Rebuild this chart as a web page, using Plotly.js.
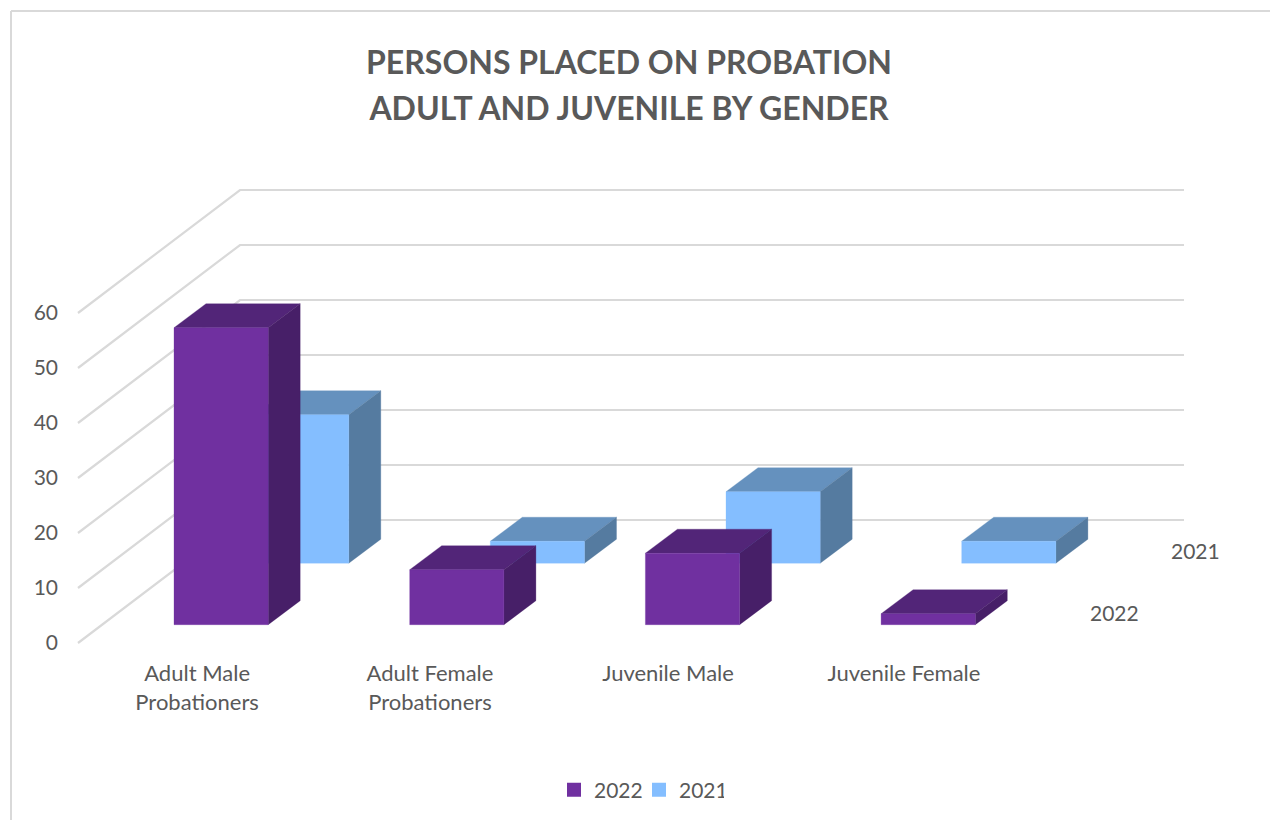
<!DOCTYPE html>
<html><head><meta charset="utf-8">
<script src="https://cdn.plot.ly/plotly-3.0.1.min.js"></script>
<style>html,body{margin:0;padding:0;background:#fff}</style>
</head><body><div id="chart" style="width:1270px;height:820px"></div>
<script>
// ---- data ----
const categories = ["Adult Male<br>Probationers", "Adult Female<br>Probationers", "Juvenile Male", "Juvenile Female"];
const values2022 = [54, 10, 13, 2];
const values2021 = [27, 4, 13, 4];
const gridValues = [0, 10, 20, 30, 40, 50, 60];
const labelPositions = [0.098, 1.086, 2.096, 3.097];

// ---- oblique projection, in axis units (1 x unit = one category, y unit = chart value) ----
const xUnit = 235.7, yUnit = 5.5;
const barW = 94.2 / xUnit, barDX = 32 / xUnit, barDY = 24 / yUnit;
const seriesDX = 80.6 / xUnit, seriesDY = 61.5 / yUnit, baseLift = 18.3 / yUnit;
const wallX = -96 / xUnit, wallDX = 162 / xUnit, wallDY = 123 / yUnit, wallEnd = 1184;
const xRange = [-174 / xUnit, (1270 - 174) / xUnit], yRange = [-177 / yUnit, 643 / yUnit];

const F = "Lato, sans-serif", C = "#595959";

function poly(x, y, xs, ys) { xs.forEach(v => x.push(v)); x.push(null); ys.forEach(v => y.push(v)); y.push(null); }
function face(x, y, color) {
  return {type: "scatter", mode: "lines", x, y, fill: "toself", fillcolor: color,
          line: {color, width: 0.3}, hoverinfo: "skip", showlegend: false};
}
function barTraces(values, depth, front, top, side) {
  const f = {x: [], y: []}, t = {x: [], y: []}, s = {x: [], y: []};
  values.forEach((v, i) => {
    const x0 = i + depth * seriesDX, x1 = x0 + barW;
    const b = baseLift + depth * seriesDY, h = b + v;
    poly(f.x, f.y, [x0, x1, x1, x0, x0], [b, b, h, h, b]);
    poly(t.x, t.y, [x0, x1, x1 + barDX, x0 + barDX, x0], [h, h, h + barDY, h + barDY, h]);
    poly(s.x, s.y, [x1, x1 + barDX, x1 + barDX, x1, x1], [b, b + barDY, h + barDY, h, b]);
  });
  return [face(t.x, t.y, top), face(s.x, s.y, side), face(f.x, f.y, front)];
}

const gx = [], gy = [];
const bx = wallX + wallDX, ex = (wallEnd - 174) / xUnit;
gridValues.forEach(v => {
  gx.push(wallX, bx, ex, null);
  gy.push(v, v + wallDY, v + wallDY, null);
});
const grid = {type: "scatter", mode: "lines", x: gx, y: gy,
  line: {color: "#D9D9D9", width: 2.2}, hoverinfo: "skip", showlegend: false};

const legendItem = (name, color) => ({type: "scatter", mode: "markers", x: [null], y: [null], name,
  marker: {symbol: "square", size: 14, color}, hoverinfo: "skip"});

const traces = [grid,
  ...barTraces(values2021, 1, "#84BEFF", "#6591BE", "#557BA0"),
  ...barTraces(values2022, 0, "#7030A0", "#522578", "#471F68"),
  legendItem("2022", "#7030A0"), legendItem("2021", "#84BEFF")];

const seriesLabel = (text, depth) => ({
  text, xref: "x", yref: "y", showarrow: false, xanchor: "center", yanchor: "middle",
  x: 3.99 + depth * seriesDX, y: baseLift + depth * seriesDY + 2.25,
  font: {family: F, size: 21, color: C}
});

const titleLine = s => '<span style="font-size:32px">' + s + '</span>';

const layout = {
  width: 1270, height: 820, autosize: false,
  margin: {l: 0, r: 0, t: 0, b: 0, pad: 0},
  paper_bgcolor: "#fff", plot_bgcolor: "rgba(0,0,0,0)",
  title: {text: titleLine("PERSONS PLACED ON PROBATION") + "<br>" + titleLine("ADULT AND JUVENILE BY GENDER"),
          x: 629 / 1270, xanchor: "center", xref: "paper", y: 1 - 73.5 / 820, yref: "container", yanchor: "middle",
          font: {family: F, size: 35.4, color: C, weight: 700}},
  xaxis: {range: xRange, showgrid: false, zeroline: false, showline: false, ticks: "",
          tickmode: "array", tickvals: labelPositions, ticktext: categories,
          anchor: "free", position: (820 - 658) / 820, tickfont: {family: F, size: 22, color: C}, fixedrange: true},
  yaxis: {range: yRange, showgrid: false, zeroline: false, showline: false, ticks: "",
          tickmode: "array", tickvals: gridValues, ticktext: gridValues.map(String),
          anchor: "free", position: 58 / 1270, tickfont: {family: F, size: 21, color: C}, fixedrange: true},
  showlegend: true,
  legend: {orientation: "h", x: 554 / 1270, xanchor: "left", y: 1 - 790 / 820, yanchor: "middle",
           entrywidth: 40, entrywidthmode: "pixels",
           font: {family: F, size: 21, color: C}, bgcolor: "rgba(0,0,0,0)", traceorder: "normal", itemclick: false, itemdoubleclick: false},
  shapes: [
    {type: "line", xref: "paper", yref: "paper", x0: 11 / 1270, x1: 1, y0: 1 - 11 / 820, y1: 1 - 11 / 820, line: {color: "#D9D9D9", width: 2}},
    {type: "line", xref: "paper", yref: "paper", x0: 11 / 1270, x1: 11 / 1270, y0: 0, y1: 1 - 11 / 820, line: {color: "#D9D9D9", width: 2}}
  ],
  annotations: [seriesLabel("2022", 0), seriesLabel("2021", 1)]
};
Plotly.newPlot("chart", traces, layout, {displayModeBar: false, responsive: false});
</script></body></html>
